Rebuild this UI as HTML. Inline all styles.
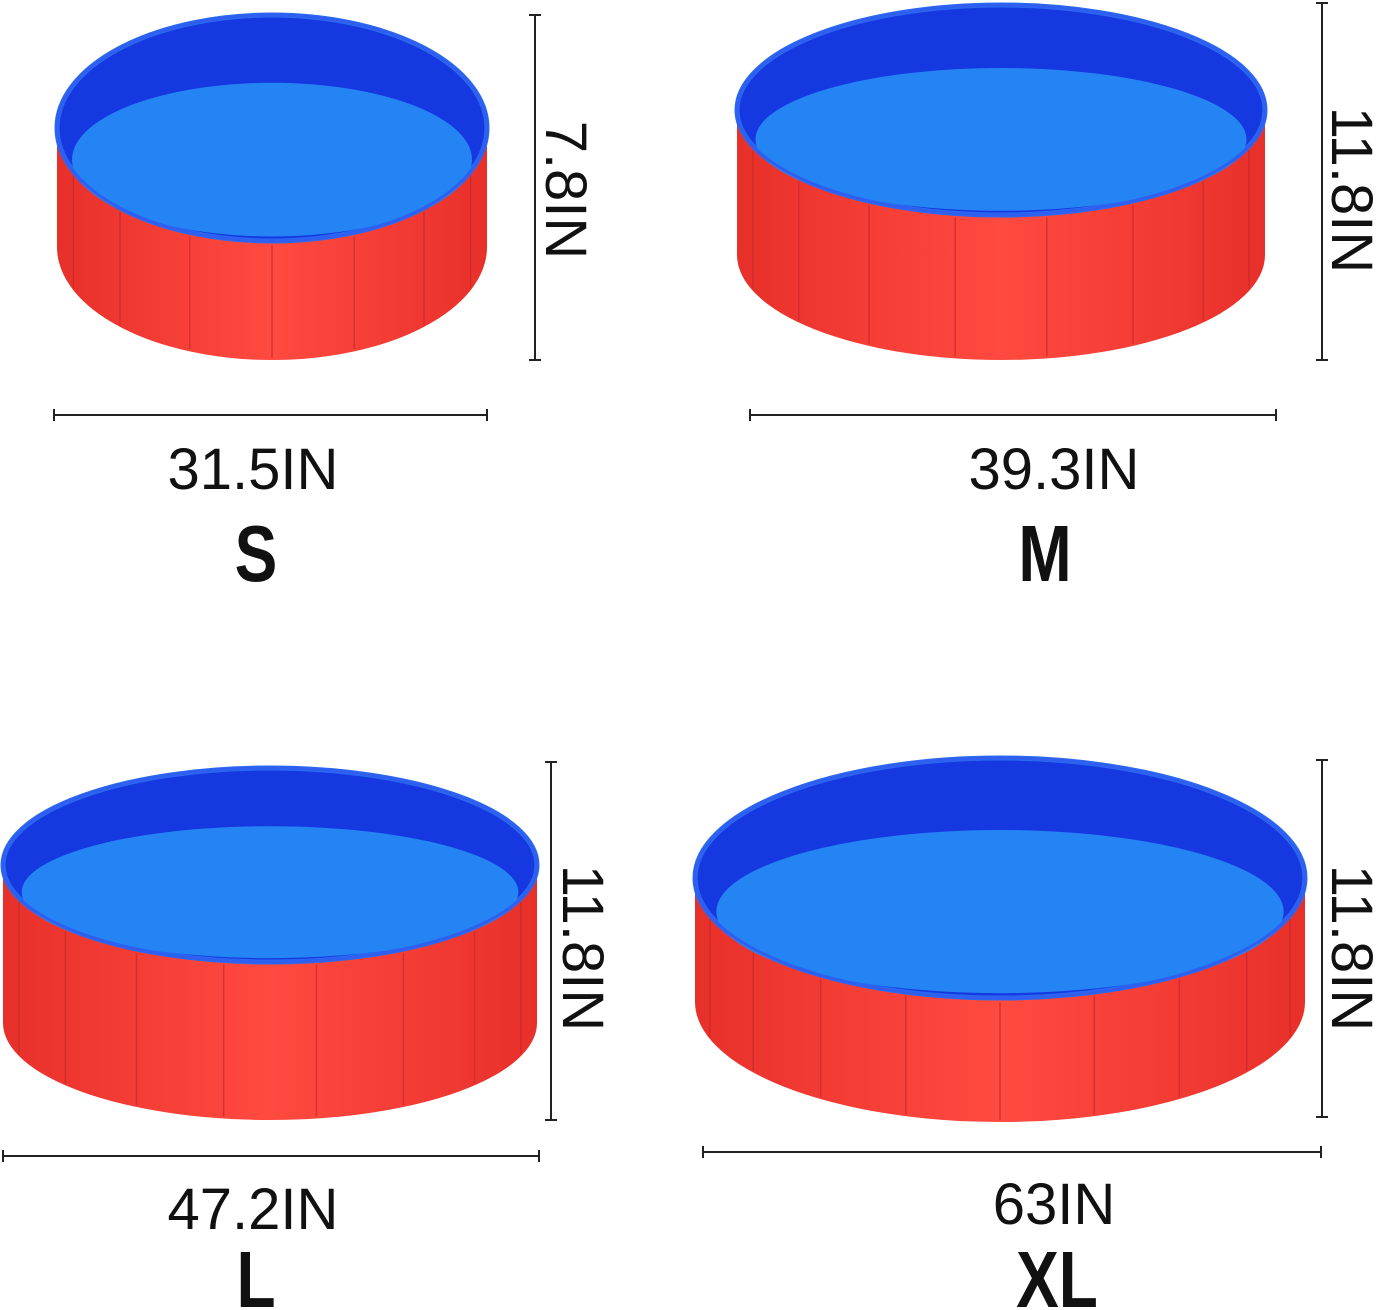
<!DOCTYPE html>
<html><head><meta charset="utf-8">
<style>
html,body{margin:0;padding:0;background:#fff;}
svg{display:block;}
.dim{font-family:"Liberation Sans",sans-serif;font-size:58px;fill:#111;}
.size{font-family:"Liberation Sans Narrow","Liberation Sans",sans-serif;font-weight:bold;font-size:80px;fill:#111;}
</style></head>
<body>
<svg width="1379" height="1310" viewBox="0 0 1379 1310" id="root">
<defs>
<linearGradient id="red" x1="0" x2="1" y1="0" y2="0">
<stop offset="0" stop-color="#e8302a"/><stop offset="0.5" stop-color="#ff4a40"/><stop offset="1" stop-color="#e8302a"/>
</linearGradient>
</defs>
<g id="pools"></g>
<g id="dims" stroke="#222" stroke-width="2" fill="none"></g>
<g id="labels"></g>
</svg>
<script>
const NS='http://www.w3.org/2000/svg';
const pools=[
 {name:'s',cx:272,cy:128,rx:215,ry:113,h:119,panels:16},
 {name:'m',cx:1001,cy:110,rx:264,ry:105,h:145,panels:18},
 {name:'l',cx:270,cy:865,rx:267,ry:97,h:158,panels:18},
 {name:'xl',cx:1000,cy:878,rx:305,ry:120,h:124,panels:20}
];
function mk(tag,attrs,parent){const e=document.createElementNS(NS,tag);for(const k in attrs)e.setAttribute(k,attrs[k]);parent.appendChild(e);return e;}
const gp=document.getElementById('pools');
pools.forEach(p=>{
 const g=mk('g',{},gp);
 
 
 const {cx,cy,rx,ry,h}=p;
 mk('path',{d:`M${cx-rx},${cy} L${cx-rx},${cy+h} A${rx},${ry} 0 0 0 ${cx+rx},${cy+h} L${cx+rx},${cy} A${rx},${ry} 0 0 1 ${cx-rx},${cy} Z`,fill:'url(#red)'},g);
 for(let i=1;i<p.panels/2;i++){
  const a=Math.PI*i/(p.panels/2);
  const x=cx-rx*Math.cos(a), s=Math.sin(a);
  mk('line',{x1:x,y1:cy+ry*s+4,x2:x,y2:cy+h+ry*s-2,stroke:'#c8282a','stroke-width':1.5,opacity:0.7},g);
 }
 mk('ellipse',{cx,cy,rx,ry,fill:'#1638e0',stroke:'#2a6af0','stroke-width':5},g);
 mk('ellipse',{cx,cy:cy+ry*0.28,rx:rx*0.93,ry:ry*0.68,fill:'#2484f4'},g);
 mk('ellipse',{cx,cy,rx,ry,fill:'none',stroke:'#2f5ff0','stroke-width':3},g);
});
const gd=document.getElementById('dims');
const hdims=[[54,487,415],[750,1276,415],[3,539,1156],[703,1321,1152]];
const vdims=[[535,15,360],[1322,3,360],[551,762,1120],[1322,760,1117]];
hdims.forEach(d=>{
 const l=mk('path',{d:`M${d[0]},${d[2]}H${d[1]}M${d[0]},${d[2]-6}V${d[2]+6}M${d[1]},${d[2]-6}V${d[2]+6}`},gd);
 
 
});
vdims.forEach(d=>{
 const l=mk('path',{d:`M${d[0]},${d[1]}V${d[2]}M${d[0]-6},${d[1]}H${d[0]+6}M${d[0]-6},${d[2]}H${d[0]+6}`},gd);
 
 
});
const gl=document.getElementById('labels');
const widthTexts=[['31.5IN',253,489],['39.3IN',1054,489],['47.2IN',253,1229],['63IN',1054,1224]];
widthTexts.forEach(t=>{
 const e=mk('text',{x:t[1],y:t[2],'text-anchor':'middle',class:'dim'},gl);e.textContent=t[0];
 
 
});
const heightTexts=[['7.8IN',546,190],['11.8IN',1332,190],['11.8IN',563,948],['11.8IN',1332,948]];
heightTexts.forEach(t=>{
 const e=mk('text',{x:0,y:0,'text-anchor':'middle',class:'dim',transform:`translate(${t[1]},${t[2]}) rotate(90)`},gl);e.textContent=t[0];
 
 
});
const sizeTexts=[['S',256,581],['M',1045,581],['L',256,1307],['XL',1057,1307]];
sizeTexts.forEach(t=>{
 const e=mk('text',{x:0,y:0,'text-anchor':'middle',class:'size',transform:`translate(${t[1]},${t[2]}) scale(0.8,1)`},gl);e.textContent=t[0];
 
 
});
</script>
</body></html>
